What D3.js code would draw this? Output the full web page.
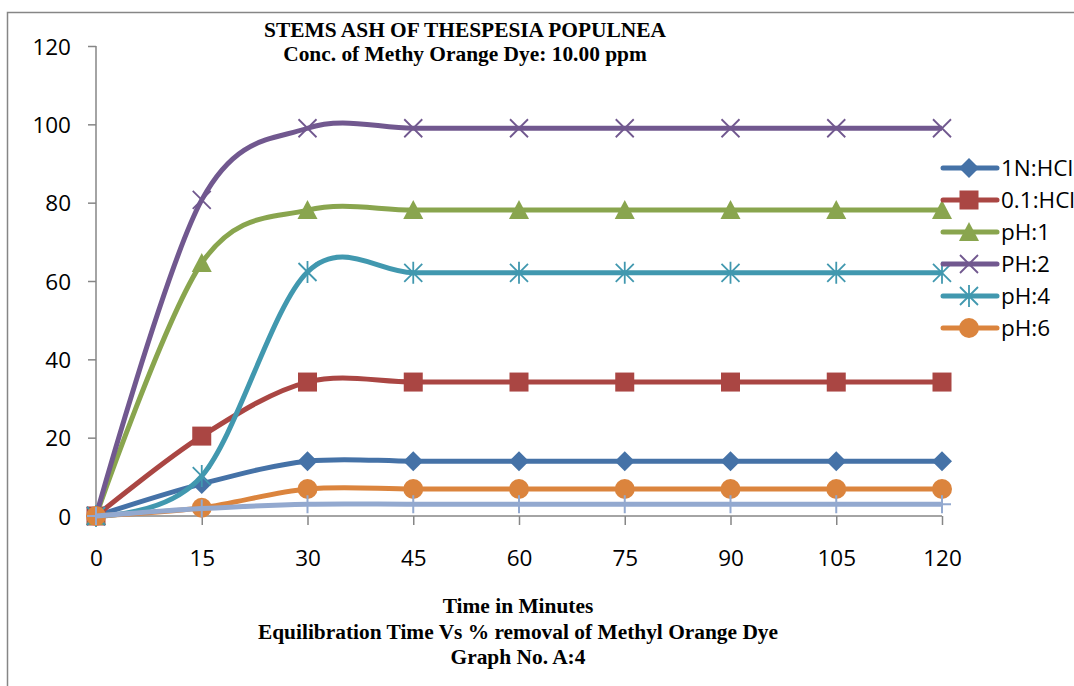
<!DOCTYPE html>
<html>
<head>
<meta charset="utf-8">
<script src="https://cdn.jsdelivr.net/npm/d3@7"></script>
<style>
  html, body { margin: 0; padding: 0; background: #fff; }
  svg { display: block; }
  .tick-label { font-family: 'Open Sans', 'Liberation Sans', sans-serif; font-size: 22.5px; fill: #000; }
  .legend text { font-family: 'Open Sans', 'Liberation Sans', sans-serif; font-size: 22.5px; fill: #000; }
  .title { font-family: 'Liberation Serif', 'Times New Roman', serif; font-weight: bold; font-size: 21.4px; fill: #000; }
</style>
</head>
<body>
<svg id="chart"></svg>
<script>
// time in minutes
const times = [0, 15, 30, 45, 60, 75, 90, 105, 120];

// % removal per series
const hcl1N = [0, 8.2, 14.0, 14.0, 14.0, 14.0, 14.0, 14.0, 14.0];
const hcl01 = [0, 20.4, 34.2, 34.2, 34.2, 34.2, 34.2, 34.2, 34.2];
const ph1 = [0, 64.6, 78.1, 78.1, 78.1, 78.1, 78.1, 78.1, 78.1];
const ph2 = [0, 80.7, 99.0, 99.0, 99.0, 99.0, 99.0, 99.0, 99.0];
const ph4 = [0, 10.2, 62.3, 62.1, 62.1, 62.1, 62.1, 62.1, 62.1];
const ph6 = [0, 2.1, 6.9, 6.9, 6.9, 6.9, 6.9, 6.9, 6.9];
const ph8 = [0, 1.9, 3.0, 3.0, 3.0, 3.0, 3.0, 3.0, 3.0];

const seriesNames = ['1N:HCl', '0.1:HCl', 'pH:1', 'PH:2', 'pH:4', 'pH:6', 'pH:8'];
const seriesColors = ['#4572A7', '#AA4643', '#89A54E', '#71588F', '#4198AF', '#DB843D', '#93A9CF'];
const seriesMarkers = ['diamond', 'square', 'triangle', 'x', 'star', 'circle', 'plus'];
const seriesValues = [hcl1N, hcl01, ph1, ph2, ph4, ph6, ph8];
const legendCount = 6; // last series is cut off from the legend

const yTicks = [0, 20, 40, 60, 80, 100, 120];

const titleLines = ['STEMS ASH OF THESPESIA POPULNEA', 'Conc. of Methy Orange Dye: 10.00 ppm'];
const bottomLines = ['Time in Minutes', 'Equilibration Time Vs % removal of Methyl Orange Dye', 'Graph No. A:4'];

const W = 1074, H = 686;
const svg = d3.select('#chart').attr('width', W).attr('height', H);

// outer chart border (right and bottom cut off)
svg.append('path')
  .attr('d', `M7.5,${H} L7.5,12.5 L${W},12.5`)
  .attr('fill', 'none')
  .attr('stroke', '#868686')
  .attr('stroke-width', 1.5);

const x = d3.scaleLinear().domain([0, 120]).range([96, 942]);
const y = d3.scaleLinear().domain([0, 120]).range([516, 46]);
const axisColor = '#868686';

// y axis
const yAxis = svg.append('g').attr('transform', `translate(${x(0)},0)`)
  .call(d3.axisLeft(y).tickValues(yTicks).tickSize(8).tickFormat(d3.format('d')));
yAxis.select('.domain').attr('stroke', axisColor).attr('stroke-width', 1.5);
yAxis.selectAll('.tick line').attr('stroke', axisColor).attr('stroke-width', 1.5);
yAxis.selectAll('.tick text')
  .attr('class', 'tick-label')
  .attr('font-size', null).attr('font-family', null)
  .attr('x', -25).attr('dy', '0.36em');

// x axis
const xAxis = svg.append('g').attr('transform', `translate(0,${y(0)})`)
  .call(d3.axisBottom(x).tickValues(times).tickSize(9).tickFormat(d3.format('d')));
xAxis.select('.domain').attr('stroke', axisColor).attr('stroke-width', 1.5);
xAxis.selectAll('.tick line').attr('stroke', axisColor).attr('stroke-width', 1.5);
xAxis.selectAll('.tick text')
  .attr('class', 'tick-label')
  .attr('font-size', null).attr('font-family', null)
  .attr('y', 50).attr('dy', 0);
svg.selectAll('.domain').attr('fill', 'none');
// remove outer tick stubs of the domain path
xAxis.select('.domain').attr('d', `M${x(0)},0H${x(120)}`);
yAxis.select('.domain').attr('d', `M0,${y(120)}V${y(0)}`);

function drawMarker(g, type, color) {
  const s = 9;
  if (type === 'diamond') {
    g.append('path').attr('d', `M0,${-s - 1}L${s + 1},0L0,${s + 1}L${-s - 1},0Z`).attr('fill', color);
  } else if (type === 'square') {
    g.append('rect').attr('x', -s - 0.5).attr('y', -s - 0.5).attr('width', 2 * s + 1).attr('height', 2 * s + 1).attr('fill', color);
  } else if (type === 'triangle') {
    g.append('path').attr('d', `M0,${-s - 1}L${s + 1},${s}L${-s - 1},${s}Z`).attr('fill', color);
  } else if (type === 'circle') {
    g.append('circle').attr('r', s + 1).attr('fill', color);
  } else if (type === 'x') {
    g.append('path').attr('d', `M${-s},${-s}L${s},${s}M${-s},${s}L${s},${-s}`)
      .attr('stroke', color).attr('stroke-width', 1.8);
  } else if (type === 'star') {
    g.append('path').attr('d', `M${-s},${-s}L${s},${s}M${-s},${s}L${s},${-s}M0,${-s - 2}L0,${s + 2}`)
      .attr('stroke', color).attr('stroke-width', 1.8);
  } else if (type === 'plus') {
    g.append('path').attr('d', `M0,${-s}L0,${s}M${-s},0L${s},0`)
      .attr('stroke', color).attr('stroke-width', 2);
  }
}

const line = d3.line()
  .curve(d3.curveCardinal.tension(0))
  .x(d => x(d.t))
  .y(d => y(d.v));

const plot = svg.append('g').attr('class', 'series');
seriesValues.forEach((vals, i) => {
  const pts = vals.map((v, j) => ({ t: times[j], v }));
  const g = plot.append('g');
  g.append('path')
    .datum(pts)
    .attr('d', line)
    .attr('fill', 'none')
    .attr('stroke', seriesColors[i])
    .attr('stroke-width', 5)
    .attr('stroke-linejoin', 'round');
  pts.forEach((p) => {
    const m = g.append('g').attr('transform', `translate(${x(p.t)},${y(p.v)})`);
    drawMarker(m, seriesMarkers[i], seriesColors[i]);
  });
});

// legend
const legend = svg.append('g').attr('class', 'legend');
for (let i = 0; i < legendCount; i++) {
  const ly = 168 + i * 32;
  const item = legend.append('g');
  item.append('line')
    .attr('x1', 943).attr('x2', 997)
    .attr('y1', ly).attr('y2', ly)
    .attr('stroke', seriesColors[i])
    .attr('stroke-width', 5)
    .attr('stroke-linecap', 'round');
  drawMarker(item.append('g').attr('transform', `translate(969,${ly})`), seriesMarkers[i], seriesColors[i]);
  item.append('text')
    .attr('x', 1001).attr('y', ly).attr('dy', '0.36em')
    .text(seriesNames[i]);
}

// titles
svg.append('g').selectAll('text')
  .data(titleLines)
  .join('text')
  .attr('class', 'title')
  .attr('text-anchor', 'middle')
  .attr('x', 465)
  .attr('y', (d, i) => 37 + i * 24)
  .text(d => d);

svg.append('g').selectAll('text')
  .data(bottomLines)
  .join('text')
  .attr('class', 'title')
  .attr('text-anchor', 'middle')
  .attr('x', 518)
  .attr('y', (d, i) => 613 + i * 25.5)
  .text(d => d);
</script>
</body>
</html>
